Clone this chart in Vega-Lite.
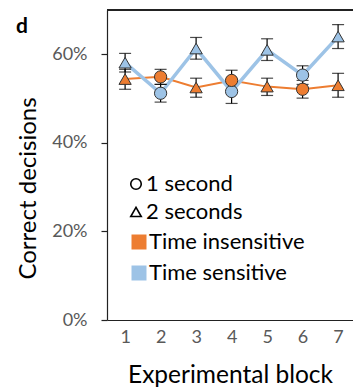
{
  "$schema": "https://vega.github.io/schema/vega-lite/v6.json",
  "autosize": "none",
  "width": 246,
  "height": 310,
  "padding": {"left": 107, "top": 10, "right": 0, "bottom": 69},
  "background": "white",
  "config": {
    "view": {"stroke": null},
    "font": "Lato",
    "axis": {"grid": false, "domainColor": "#222", "tickColor": "#222", "domainWidth": 1.2, "tickWidth": 1.2}
  },
  "title": {"text": "d", "anchor": "start", "frame": "bounds", "fontSize": 21, "fontWeight": "bold", "font": "Lato", "color": "black", "offset": 0, "baseline": "alphabetic", "dy": 45},
  "data": {
    "values": [
      {"block": 1, "condition": "Time sensitive", "duration": "2 seconds", "mean": 0.581, "lo": 0.560, "hi": 0.602},
      {"block": 2, "condition": "Time sensitive", "duration": "1 second", "mean": 0.512, "lo": 0.492, "hi": 0.532},
      {"block": 3, "condition": "Time sensitive", "duration": "2 seconds", "mean": 0.613, "lo": 0.589, "hi": 0.638},
      {"block": 4, "condition": "Time sensitive", "duration": "1 second", "mean": 0.516, "lo": 0.489, "hi": 0.543},
      {"block": 5, "condition": "Time sensitive", "duration": "2 seconds", "mean": 0.610, "lo": 0.586, "hi": 0.635},
      {"block": 6, "condition": "Time sensitive", "duration": "1 second", "mean": 0.553, "lo": 0.532, "hi": 0.574},
      {"block": 7, "condition": "Time sensitive", "duration": "2 seconds", "mean": 0.640, "lo": 0.613, "hi": 0.667},
      {"block": 1, "condition": "Time insensitive", "duration": "2 seconds", "mean": 0.544, "lo": 0.521, "hi": 0.566},
      {"block": 2, "condition": "Time insensitive", "duration": "1 second", "mean": 0.549, "lo": 0.532, "hi": 0.566},
      {"block": 3, "condition": "Time insensitive", "duration": "2 seconds", "mean": 0.525, "lo": 0.503, "hi": 0.546},
      {"block": 4, "condition": "Time insensitive", "duration": "1 second", "mean": 0.541, "lo": 0.518, "hi": 0.564},
      {"block": 5, "condition": "Time insensitive", "duration": "2 seconds", "mean": 0.527, "lo": 0.507, "hi": 0.546},
      {"block": 6, "condition": "Time insensitive", "duration": "1 second", "mean": 0.521, "lo": 0.501, "hi": 0.541},
      {"block": 7, "condition": "Time insensitive", "duration": "2 seconds", "mean": 0.530, "lo": 0.503, "hi": 0.557}
    ]
  },
  "layer": [
    {
      "transform": [{"filter": "datum.condition === 'Time insensitive'"}],
      "mark": {"type": "line", "color": "#ED7D31", "strokeWidth": 2},
      "encoding": {
        "x": {"field": "block", "type": "quantitative", "title": "Experimental block", "scale": {"domain": [0.49, 7.42], "nice": false, "zero": false},
              "axis": {"orient": "bottom", "values": [1, 2, 3, 4, 5, 6, 7], "ticks": false, "labelFontSize": 18, "labelColor": "#595959", "labelPadding": 8, "title": "Experimental block", "titleFontSize": 24.5, "titleFontWeight": "normal", "titleColor": "black", "titlePadding": 17}},
        "y": {"field": "mean", "type": "quantitative", "title": "Correct decisions", "scale": {"domain": [0, 0.7], "nice": false},
              "axis": {"orient": "left", "values": [0, 0.2, 0.4, 0.6], "format": ".0%", "tickSize": 6, "labelFontSize": 18, "labelColor": "#595959", "labelPadding": 14, "title": "Correct decisions", "titleFontSize": 24, "titleFontWeight": "normal", "titleColor": "black", "titleX": -72, "titleY": 178, "titleBaseline": "alphabetic"}},
        "order": {"field": "block", "type": "quantitative"}
      }
    },
    {
      "mark": {"type": "rule", "color": "#222", "strokeWidth": 1.2},
      "encoding": {"y": {"datum": 0.7, "title": "Correct decisions"}}
    },
    {
      "transform": [{"filter": "datum.condition === 'Time sensitive'"}],
      "mark": {"type": "line", "color": "#9DC3E6", "strokeWidth": 3.5},
      "encoding": {
        "x": {"field": "block", "type": "quantitative", "title": "Experimental block"},
        "y": {"field": "mean", "type": "quantitative", "title": "Correct decisions"},
        "order": {"field": "block", "type": "quantitative"}
      }
    },
    {
      "mark": {"type": "errorbar", "ticks": {"size": 12, "color": "black"}, "color": "black", "thickness": 1.2},
      "encoding": {
        "x": {"field": "block", "type": "quantitative", "title": "Experimental block"},
        "y": {"field": "lo", "type": "quantitative", "title": "Correct decisions"},
        "y2": {"field": "hi"}
      }
    },
    {
      "mark": {"type": "point", "filled": false, "size": 150, "stroke": "#333", "strokeWidth": 1, "opacity": 1},
      "encoding": {
        "x": {"field": "block", "type": "quantitative", "title": "Experimental block"},
        "y": {"field": "mean", "type": "quantitative", "title": "Correct decisions"},
        "fill": {"field": "condition", "type": "nominal", "scale": {"domain": ["Time insensitive", "Time sensitive"], "range": ["#ED7D31", "#9DC3E6"]},
                  "legend": {"orient": "none", "legendX": 21, "legendY": 221, "title": null, "symbolType": "square", "symbolSize": 225, "symbolStrokeWidth": 0, "symbolStrokeColor": "transparent", "labelFontSize": 22, "labelFont": "Lato", "labelColor": "black", "labelOffset": -1, "rowPadding": 9, "padding": 0, "offset": 0}},
        "shape": {"field": "duration", "type": "nominal", "scale": {"domain": ["1 second", "2 seconds"], "range": ["circle", "triangle-up"]},
                  "legend": {"orient": "none", "legendX": 18, "legendY": 163, "title": null, "symbolSize": 110, "symbolStrokeWidth": 1.6, "symbolStrokeColor": "black", "symbolFillColor": "transparent", "labelFontSize": 22, "labelFont": "Lato", "labelColor": "black", "labelOffset": -1, "rowPadding": 6, "padding": 0, "offset": 0}}
      }
    }
  ]
}
